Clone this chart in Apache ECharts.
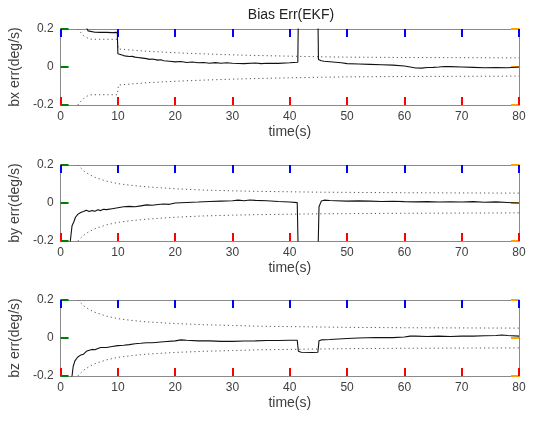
<!DOCTYPE html>
<html><head><meta charset="utf-8">
<script src="https://cdn.jsdelivr.net/npm/echarts@6/dist/echarts.min.js"></script>
<style>html,body{margin:0;padding:0;background:#fff}#c{width:534px;height:423px}</style>
</head><body><div id="c"></div>
<script>
// ---- data ----
const xTicks = [0,10,20,30,40,50,60,70,80];
const yTicks = [-0.2,0,0.2];
const yNames = ['bx err(deg/s)','by err(deg/s)','bz err(deg/s)'];
const xName = 'time(s)';
const titleText = 'Bias Err(EKF)';

const bxT = [0,3,4.5,4.8,5,6,7,8,9,9.9,10,10.3,11,11.5,12,12.5,13,13.5,14,15,15.5,16,17,17.5,18,19,20,21,22,23,24,25,26,27,28,29,30,32,34,35,36,38,40,41.4,41.5,44.9,45,45.5,46,47,48,49,50,52,54,56,58,60,61,62,63,64,65,66,67,68,70,72,74,76,78,80];
const bxV = [0.3,0.3,0.21,0.19,0.185,0.183,0.182,0.182,0.181,0.182,0.07,0.065,0.06,0.057,0.055,0.056,0.052,0.05,0.048,0.044,0.04,0.042,0.036,0.038,0.033,0.03,0.027,0.029,0.024,0.026,0.022,0.024,0.02,0.023,0.02,0.022,0.02,0.018,0.021,0.018,0.02,0.019,0.022,0.025,0.3,0.3,0.04,0.033,0.03,0.028,0.025,0.022,0.018,0.016,0.014,0.012,0.01,0.005,0.0,-0.005,-0.006,-0.003,-0.002,0.0,0.003,0.002,0.0,-0.002,-0.004,-0.003,-0.004,0.0];
const bxBoundT = [3,4,5,6,8,9.9,10.1,12,15,20,25,30,35,40,45,50,60,70,80];
const bxBoundV = [0.2,0.165,0.147,0.146,0.146,0.146,0.095,0.09,0.083,0.075,0.069,0.064,0.06,0.057,0.054,0.052,0.05,0.049,0.048];

const byT = [0,1.5,1.7,2,2.3,2.6,3,3.5,4,4.5,5,5.5,6,6.5,7,7.5,8,9,10,11,12,13,14,15,16,17,18,19,20,22,24,26,28,30,31,32,33,34,36,38,40,41.3,41.5,44.9,45.1,45.5,46,47,48,50,52,54,56,58,60,62,64,66,68,70,72,74,76,78,80];
const byV = [-0.3,-0.3,-0.2,-0.12,-0.1,-0.075,-0.06,-0.05,-0.045,-0.038,-0.045,-0.04,-0.043,-0.036,-0.04,-0.033,-0.035,-0.03,-0.025,-0.02,-0.018,-0.02,-0.015,-0.01,-0.012,-0.008,-0.005,-0.007,0.0,0.003,0.005,0.008,0.01,0.012,0.015,0.012,0.016,0.014,0.012,0.008,0.005,0.002,-0.3,-0.3,-0.02,0.01,0.015,0.013,0.012,0.01,0.011,0.01,0.008,0.009,0.007,0.006,0.007,0.005,0.006,0.005,0.007,0.004,0.006,0.003,0.0];
const byBoundT = [3,4,5,6,8,10,12,15,20,25,30,35,40,45,50,60,70,80];
const byBoundV = [0.2,0.17,0.15,0.135,0.115,0.102,0.094,0.085,0.075,0.068,0.064,0.061,0.059,0.057,0.056,0.054,0.053,0.052];

const bzT = [0,2,2.2,2.5,3,3.5,4,4.5,5,5.5,6,6.5,7,8,9,10,11,12,13,14,15,16,18,20,21,22,24,26,28,30,32,34,36,38,40,41.3,41.5,42,44,44.9,45.1,45.5,47,50,52,55,58,60,61,62,64,66,68,70,72,74,76,77,78,80];
const bzV = [-0.3,-0.2,-0.15,-0.12,-0.1,-0.09,-0.085,-0.07,-0.065,-0.06,-0.062,-0.055,-0.05,-0.05,-0.045,-0.04,-0.038,-0.035,-0.03,-0.028,-0.025,-0.025,-0.02,-0.015,-0.01,-0.012,-0.015,-0.015,-0.018,-0.018,-0.016,-0.015,-0.013,-0.013,-0.012,-0.012,-0.07,-0.075,-0.076,-0.075,-0.015,-0.01,-0.008,-0.003,0.0,0.003,0.002,0.005,0.01,0.01,0.008,0.01,0.008,0.01,0.01,0.012,0.013,0.016,0.013,0.01];
const bzBoundT = [3,4,5,6,8,10,12,15,20,25,30,35,40,45,50,60,70,80];
const bzBoundV = [0.2,0.17,0.15,0.135,0.115,0.102,0.094,0.085,0.076,0.07,0.066,0.062,0.06,0.058,0.056,0.054,0.053,0.052];

// ---- build ----
const pairs = (t, v, s) => t.map((x, i) => [x, (s || 1) * v[i]]);
const panels = [
  {t: bxT, v: bxV, bt: bxBoundT, bv: bxBoundV},
  {t: byT, v: byV, bt: byBoundT, bv: byBoundV},
  {t: bzT, v: bzV, bt: bzBoundT, bv: bzBoundV}
];
const tops = [29, 165, 300];
const H = 76, L = 59, W = 460;
const FONT = 'Liberation Sans, Arial, sans-serif';
const grid = [], xAxis = [], yAxis = [], series = [];
const boxColor = '#8a8a8a', textColor = '#404040';
const line = () => ({show: true, onZero: false, lineStyle: {color: boxColor, width: 1}});
const tick = (c) => ({show: true, inside: true, length: 8, lineStyle: {color: c, width: 2}});
panels.forEach((p, i) => {
  grid.push({left: L, top: tops[i], width: W, height: H, show: false});
  xAxis.push({gridIndex: i, type: 'value', min: 0, max: 80, interval: 10, position: 'bottom',
    name: xName, nameLocation: 'middle', nameGap: 20, nameTextStyle: {fontFamily: FONT, fontSize: 14, color: textColor},
    axisLine: line(), axisTick: tick('red'),
    axisLabel: {fontFamily: FONT, fontSize: 12, color: textColor, margin: 6}, splitLine: {show: false}});
  xAxis.push({gridIndex: i, type: 'value', min: 0, max: 80, interval: 10, position: 'top',
    axisLine: line(), axisTick: tick('blue'), axisLabel: {show: false}, splitLine: {show: false}});
  yAxis.push({gridIndex: i, type: 'value', min: -0.2, max: 0.2, interval: 0.2, position: 'left',
    name: yNames[i], nameLocation: 'middle', nameGap: 26, nameRotate: 90,
    nameTextStyle: {fontFamily: FONT, fontSize: 14, color: textColor},
    axisLine: line(), axisTick: tick('green'),
    axisLabel: {fontFamily: FONT, fontSize: 12, color: textColor, margin: 7,
      formatter: v => (Math.abs(v) < 1e-9 ? '0' : String(Math.round(v * 10) / 10))},
    splitLine: {show: false}});
  yAxis.push({gridIndex: i, type: 'value', min: -0.2, max: 0.2, interval: 0.2, position: 'right',
    axisLine: line(), axisTick: tick('orange'), axisLabel: {show: false}, splitLine: {show: false}});
  const xi = i * 2, yi = i * 2;
  const dotted = {color: '#555', width: 1, type: [1.2, 3]};
  series.push({type: 'line', xAxisIndex: xi, yAxisIndex: yi, data: pairs(p.bt, p.bv, 1), showSymbol: false, symbol: 'none', clip: true, silent: true, lineStyle: dotted, z: 2});
  series.push({type: 'line', xAxisIndex: xi, yAxisIndex: yi, data: pairs(p.bt, p.bv, -1), showSymbol: false, symbol: 'none', clip: true, silent: true, lineStyle: dotted, z: 2});
  series.push({type: 'line', xAxisIndex: xi, yAxisIndex: yi, data: pairs(p.t, p.v, 1), showSymbol: false, symbol: 'none', clip: true, silent: true, lineStyle: {color: '#111', width: 1.1}, z: 3});
});

const chart = echarts.init(document.getElementById('c'), null, {renderer: 'canvas'});
chart.setOption({
  animation: false,
  backgroundColor: '#fff',
  title: {text: titleText, left: 286, textAlign: 'center', top: 3,
    textStyle: {fontFamily: FONT, fontSize: 14, fontWeight: 'normal', color: '#222'}},
  grid, xAxis, yAxis, series
});
</script>
</body></html>
